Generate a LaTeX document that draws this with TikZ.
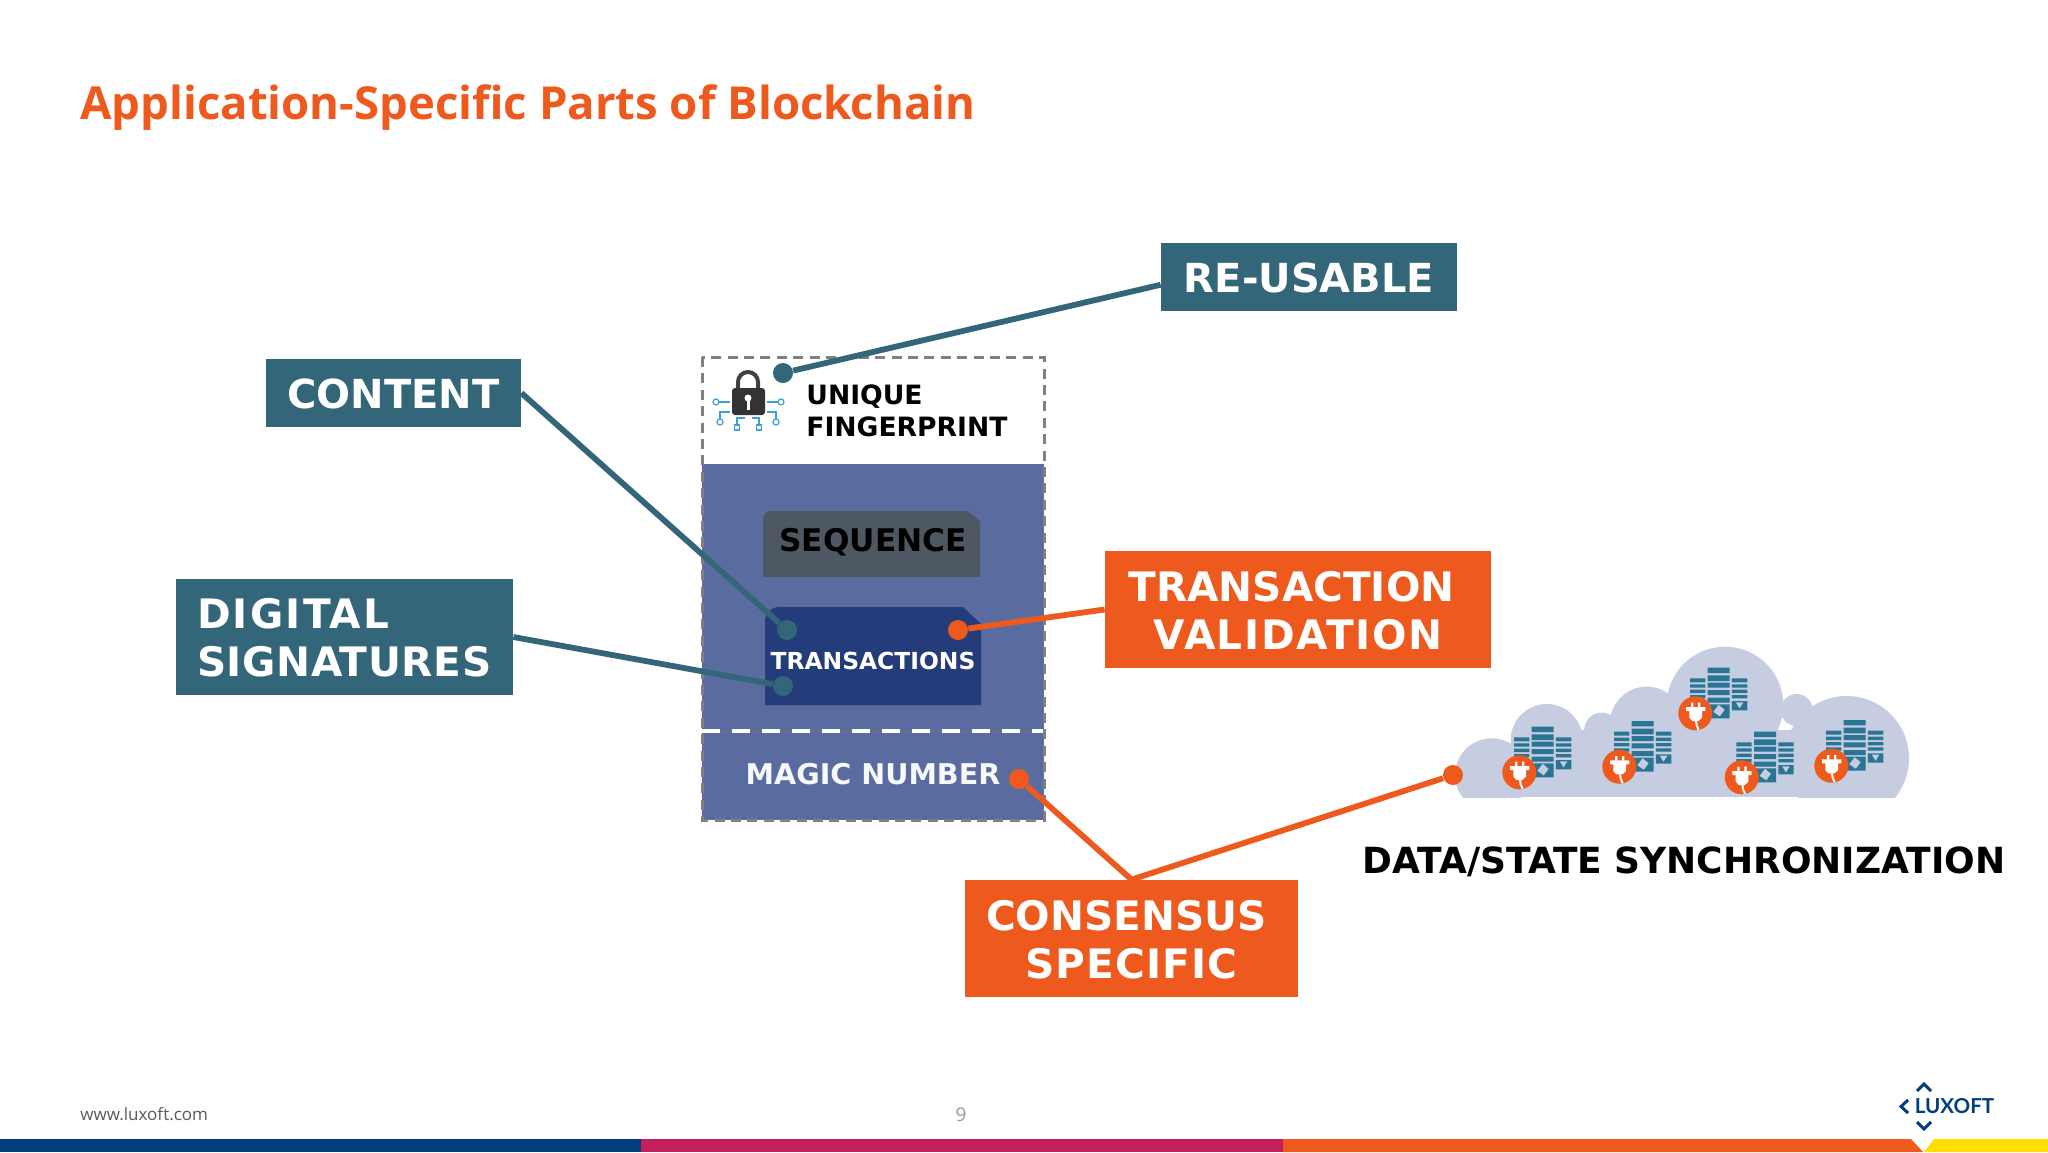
\documentclass[tikz,border=0pt]{standalone}
\usepackage{fontspec}
\setmainfont{DejaVu Sans}
\newfontfamily\opensans{Open Sans}
\newfontfamily\logofont{Lato}
\definecolor{lxteal}{RGB}{51,102,121}
\definecolor{lxorange}{RGB}{238,90,30}
\definecolor{lxblock}{RGB}{90,107,160}
\definecolor{lxdark}{RGB}{37,60,122}
\definecolor{lxgrey}{RGB}{78,88,98}
\definecolor{lxcloud}{RGB}{199,205,224}
\definecolor{lxserver}{RGB}{42,116,148}
\definecolor{lxcircuit}{RGB}{60,160,216}
\definecolor{lxnavy}{RGB}{0,62,126}
\definecolor{lxred}{RGB}{196,30,91}
\definecolor{lxyellow}{RGB}{255,222,0}
\newcommand\lxdown{\rule{0pt}{16.2pt}}
\newcommand\lxspaced[2]{{\addfontfeature{LetterSpace=#1}#2}}
\tikzset{
  box/.style={font=\fontsize{20.3}{24}\selectfont\bfseries, text=white, inner sep=0pt, align=center},
  tealbox/.style={box, fill=lxteal},
  orangebox/.style={box, fill=lxorange},
  singlebox/.style={tealbox, font=\fontsize{20}{24}\selectfont\bfseries, minimum height=34pt},
  lbl/.style={font=\fontsize{#1}{#1}\selectfont\bfseries, inner sep=0pt},
  dot/.style={circle, fill=#1, minimum size=10pt, inner sep=0pt},
  tealline/.style={line width=2.9pt, draw=lxteal},
  orangeline/.style={line width=2.9pt, draw=lxorange},
  pics/srv/.style={code={
    \fill[lxserver] (-5.3,-35) rectangle (10,-31) (-5.3,-29) rectangle (10,-25.7)
      (-5.3,-23.7) rectangle (10,-20.3) (-5.3,-18.3) rectangle (10,-15);
    \fill[lxserver] (12.3,-45.7) rectangle (34.3,-40.3) (12.3,-38) rectangle (34.3,-32.3)
      (12.3,-30.7) rectangle (34.3,-25.7) (12.3,-23.3) rectangle (34.3,-18.3)
      (12.3,-15.7) rectangle (34.3,-10.7) (12.3,-9) rectangle (34.3,5);
    \fill[lxserver] (36.6,-35) rectangle (52,-31) (36.6,-29) rectangle (52,-25.7)
      (36.6,-23.7) rectangle (52,-20.3) (36.6,-18.3) rectangle (52,-15)
      (36.6,-12.3) rectangle (52,-3);
    \fill[lxcloud] (23.3,-8.5) -- (29.3,-3.5) -- (24.5,3) -- (18,-1.5) -- cycle;
    \fill[lxcloud] (40.5,-11) -- (48,-11) -- (44.2,-5) -- cycle;
    \fill[lxorange] (0,0) circle (17);
    \fill[white] (-4.3,-10.7) rectangle (-2,-6) (2.7,-10.7) rectangle (5,-6);
    \fill[white] (-9.3,-6.3) -- (10,-6.3) -- (10,-2.3) -- (6.7,-2.3) -- (6.7,4.3) -- (3,7.7)
      -- (-3,7.7) -- (-6,4.3) -- (-6,-2.3) -- (-9.3,-2.3) -- cycle;
    \draw[white, line width=1pt] (0.7,7.7) .. controls (0.7,11) and (1.5,13) .. (3.3,16.3);
  }}
}
\begin{document}
\begin{tikzpicture}[x=0.5pt,y=-0.5pt]
\useasboundingbox (0,0) rectangle (2048,1152);
\fill[white] (0,0) rectangle (2048,1152);

% title and footer
\node[anchor=base west, inner sep=0pt, text=lxorange, font=\opensans\fontsize{22.75}{23}\selectfont\bfseries] (title) at (80,119) {Application-Specific Parts of Blockchain};
\node[anchor=base west, inner sep=0pt, text=black!65, font=\opensans\fontsize{8.5}{8.5}\selectfont] (www) at (80,1120) {www.luxoft.com};
\node[anchor=base, inner sep=0pt, text=black!40, font=\opensans\fontsize{9.5}{9.5}\selectfont] (page) at (961,1121) {9};
\fill[lxnavy] (0,1139) rectangle (641,1152);
\fill[lxred] (641,1139) rectangle (1283,1152);
\fill[lxorange] (1283,1139) -- (1911,1139) -- (1923,1152) -- (1283,1152) -- cycle;
\fill[lxyellow] (1934,1139) -- (2048,1139) -- (2048,1152) -- (1924,1152) -- cycle;

% logo
\node[inner sep=0pt, text=lxnavy, font=\logofont\fontsize{10.3}{10.3}\selectfont\bfseries] (logo) at (1954.5,1106.5) {LUXOFT};
\draw[lxnavy, line width=1.5pt] (1917,1091) -- (1924,1084) -- (1931,1091);
\draw[lxnavy, line width=1.5pt] (1917,1122) -- (1924,1129) -- (1931,1122);
\draw[lxnavy, line width=1.5pt] (1908,1100) -- (1901,1106.5) -- (1908,1113);

% block
\fill[lxblock] (702,464) rectangle (1044,820);
\draw[black!55, line width=0.5pt] (702,731) -- (1044,731);
\draw[white, line width=2pt, dash pattern=on 9pt off 6pt] (702,731) -- (1044,731);
\draw[black!50, line width=1.5pt, dash pattern=on 5pt off 3.2pt] (702,357) rectangle (1044,820);
\fill[lxgrey] (763,577) {[rounded corners=4pt] -- (763,511)} -- (968,511) -- (980,521) -- (980,577) -- cycle;
\fill[lxdark] (765,705) {[rounded corners=7pt] -- (765,607)} -- (963,607) -- (981,624) -- (981,705) -- cycle;
\node[lbl=15.6, text=black] (seq) at (873,542) {SEQUENCE};
\node[lbl=11.7, text=white] (trans) at (873,661) {TRANSACTIONS};
\node[lbl=14.3, text=white!95!lxblock] (magic) at (873,774) {MAGIC NUMBER};
\node[lbl=13, text=black, align=left, anchor=west, font=\fontsize{13.3}{16}\selectfont\bfseries] (finger) at (806,411) {UNIQUE\\FINGERPRINT};

% lock icon
\draw[black!75, line width=2pt] (738,392) -- (738,382) arc[start angle=180, end angle=360, radius=10] -- (758,392);
\fill[black!80, rounded corners=1.5pt] (732,388) rectangle (765,415);
\fill[white] (748,398) circle (3.5);
\fill[white] (746.5,398) rectangle (749.5,410);
\draw[lxcircuit, line width=0.6pt]
  (719,402) -- (730,402) (778,402) -- (767,402)
  (720,419) -- (720,412) -- (730,412) (776,419) -- (776,412) -- (767,412)
  (737,425) -- (737,418) -- (745,418) (759,425) -- (759,418) -- (752,418);
\draw[lxcircuit, line width=0.6pt] (716,402) circle (3) (781,402) circle (3) (720,422) circle (3) (776,422) circle (3);
\draw[lxcircuit, line width=0.6pt] (734.5,425) rectangle (739.5,430) (756.5,425) rectangle (761.5,430);

% cloud
\begin{scope}
\clip (1430,630) rectangle (1930,797);
\fill[lxcloud] (1491.7,775) circle (36.7);
\fill[lxcloud] (1546.7,740) circle (36);
\fill[lxcloud] (1601.7,730) circle (17.5);
\fill[lxcloud] (1646.7,723.3) circle (36.7);
\fill[lxcloud] (1725,705) circle (58.3);
\fill[lxcloud] (1796.7,710) circle (16);
\fill[lxcloud] (1846.7,758.3) circle (62.3);
\fill[lxcloud] (1490,775) rectangle (1860,797);
\fill[lxcloud] (1540,730) rectangle (1800,797);
\end{scope}
\foreach \px/\py in {1519.3/772.3, 1619.3/766.7, 1695.3/713.3, 1741.7/777.3, 1831.3/765.7}
  \pic at (\px,\py) {srv};
\node[lbl=18, text=black] (sync) at (1684,862) {DATA/STATE SYNCHRONIZATION};

% labels
\node[singlebox, minimum width=148pt] (reuse) at (1309,277) {\lxdown RE-USABLE};
\node[singlebox, minimum width=127.5pt] (content) at (393.5,393) {\lxdown CONTENT};
\node[tealbox, text width=147.5pt, inner xsep=10.5pt, minimum height=58pt, align=left] (digital) at (344.5,637) {\lxdown\lxspaced{5.4}{DIGITAL}\\\lxspaced{1.5}{SIGNATURES}};
\node[orangebox, minimum width=193pt, minimum height=58.5pt] (valid) at (1298,609.5) {\lxdown TRANSACTION\hspace*{6.5pt}\\\lxspaced{3.9}{VALIDATION}};
\node[orangebox, minimum width=166.5pt, minimum height=58.5pt] (cons) at (1131.5,938.5) {\lxdown CONSENSUS\hspace*{5pt}\\\lxspaced{2.8}{SPECIFIC}};

% dots
\node[dot=lxteal] (dreuse) at (783,373) {};
\node[dot=lxteal] (dcontent) at (787,630) {};
\node[dot=lxteal] (ddigital) at (783,686) {};
\node[dot=lxorange] (dvalid) at (958,630) {};
\node[dot=lxorange] (dmagic) at (1019,779) {};
\node[dot=lxorange] (dcloud) at (1453,775) {};

% connectors
\draw[tealline] (reuse.183.5) -- (dreuse);
\draw[tealline] (content.east) -- (dcontent);
\draw[tealline] (digital.east) -- (ddigital);
\draw[orangeline] (valid.west) -- (dvalid);
\draw[orangeline] (cons.north) -- (dmagic);
\draw[orangeline] (cons.north) -- (dcloud);
\end{tikzpicture}
\end{document}
